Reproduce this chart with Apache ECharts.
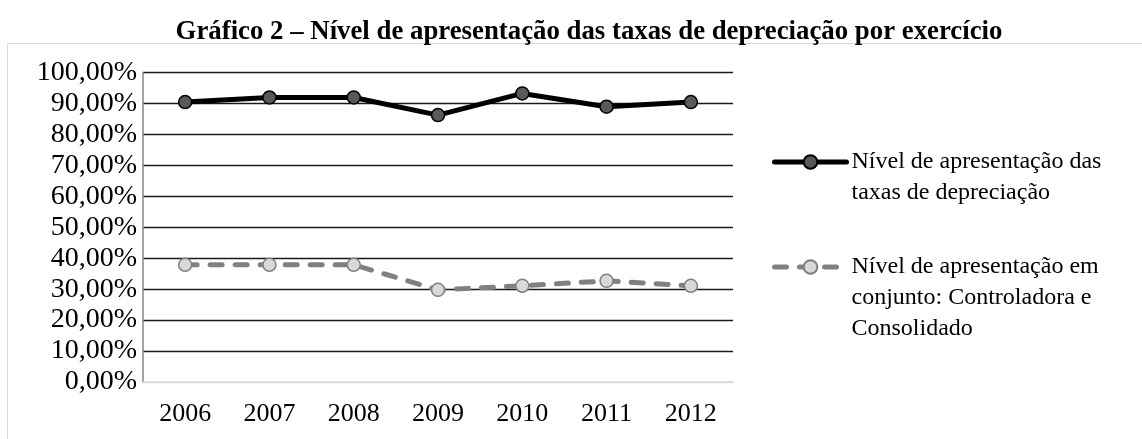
<!DOCTYPE html>
<html><head><meta charset="utf-8">
<script src="https://cdn.jsdelivr.net/npm/echarts@6/dist/echarts.min.js"></script>
<style>html,body{margin:0;padding:0;background:#fff}#c{width:1142px;height:439px}</style>
</head><body><div id="c"></div>
<script>
const titleText = 'Gráfico 2 – Nível de apresentação das taxas de depreciação por exercício';
const years = ['2006','2007','2008','2009','2010','2011','2012'];
const seriesNames = ['Nível de apresentação das taxas de depreciação', 'Nível de apresentação em conjunto: Controladora e Consolidado'];
const legendLines = [['Nível de apresentação das','taxas de depreciação'], ['Nível de apresentação em','conjunto: Controladora e','Consolidado']];
const taxas = [90.5, 92.0, 92.0, 86.3, 93.3, 89.0, 90.5];
const conjunto = [37.9, 37.9, 37.9, 29.8, 31.1, 32.7, 31.1];
const yTicks = [0,10,20,30,40,50,60,70,80,90,100];

const font = 'Liberation Serif, Times New Roman, serif';
const chart = echarts.init(document.getElementById('c'));
const splitColors = yTicks.map((v,i)=> i===0 ? '#d9d9d9' : '#1a1a1a');
// pad with blank lines above so the first line sits level with the legend icon
const legendText = lines => '\n'.repeat(lines.length-1) + lines.join('\n');
chart.setOption({
  animation:false,
  backgroundColor:'#fff',
  title:{text:titleText,left:584,textAlign:'center',top:14,textStyle:{fontFamily:font,fontWeight:'bold',fontSize:26.8,color:'#000'}},
  graphic:[{type:'rect',shape:{x:7.5,y:43.5,width:1300,height:600},style:{fill:'none',stroke:'#d9d9d9',lineWidth:1},silent:true,z:-1}],
  grid:{left:143,right:409,top:72.7,bottom:57,containLabel:false},
  xAxis:{type:'category',data:years,boundaryGap:true,
    axisLine:{lineStyle:{color:'#d9d9d9',width:1.5}},axisTick:{show:false},
    axisLabel:{fontFamily:font,fontSize:26,color:'#000',margin:19}},
  yAxis:{type:'value',min:0,max:100,interval:10,
    axisLine:{show:true,lineStyle:{color:'#868686',width:1.5}},axisTick:{show:false},
    splitLine:{lineStyle:{color:splitColors,width:1.3}},
    axisLabel:{fontFamily:font,fontSize:28,color:'#000',margin:6,
      formatter:v=>v.toFixed(2).replace('.',',')+'%'}},
  legend:[
    {data:[{name:seriesNames[0]}],orient:'vertical',left:772,top:115.5,padding:0,itemWidth:72,itemHeight:17,itemGap:0,
     formatter:()=>legendText(legendLines[0]),
     lineStyle:{width:5,cap:'round'},
     textStyle:{fontFamily:font,fontSize:24,color:'#000',lineHeight:31}},
    {data:[{name:seriesNames[1]}],orient:'vertical',left:772,top:189.5,padding:0,itemWidth:72,itemHeight:17,itemGap:0,
     formatter:()=>legendText(legendLines[1]),
     lineStyle:{width:5,cap:'round'},
     textStyle:{fontFamily:font,fontSize:24,color:'#000',lineHeight:31}}
  ],
  series:[
    {name:seriesNames[0],type:'line',data:taxas,symbol:'circle',symbolSize:13,
     lineStyle:{color:'#000',width:5,cap:'round'},itemStyle:{color:'#595959',borderColor:'#000',borderWidth:1.5}},
    {name:seriesNames[1],type:'line',data:conjunto,symbol:'circle',symbolSize:13,
     lineStyle:{color:'#808080',width:5,type:[12,13],cap:'round'},itemStyle:{color:'#d9d9d9',borderColor:'#808080',borderWidth:1.5}}
  ]
});
</script></body></html>
